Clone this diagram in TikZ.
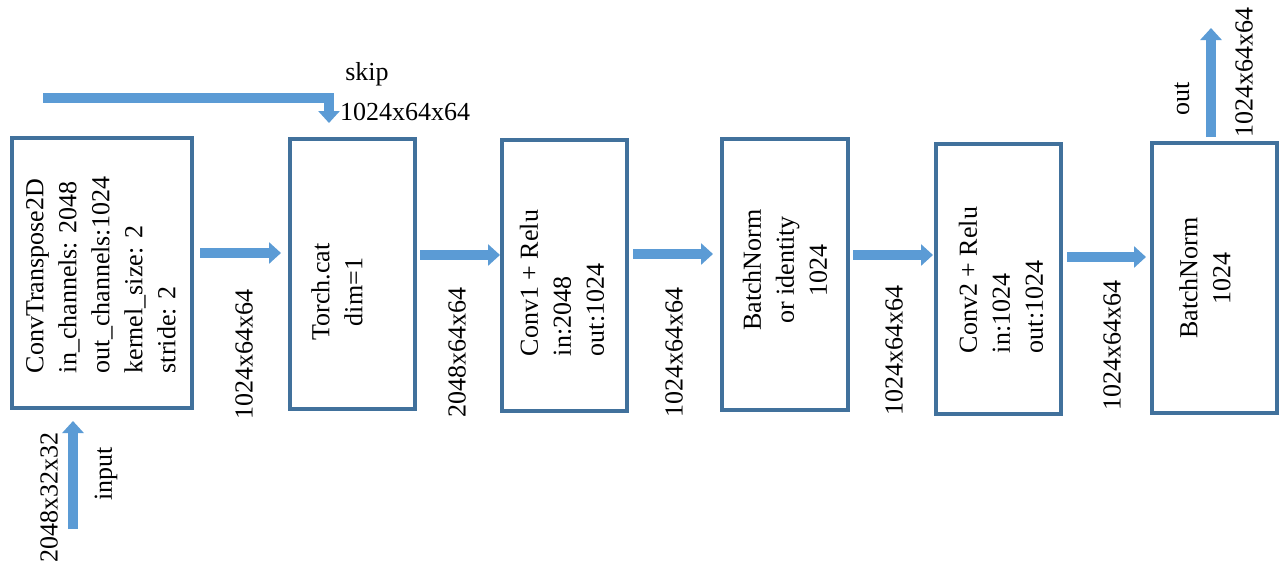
\documentclass[tikz,border=0pt]{standalone}
\usepackage{fontspec}
\setmainfont{Liberation Serif}
\usetikzlibrary{arrows.meta}
\definecolor{boxline}{RGB}{65,113,156}
\definecolor{flowblue}{RGB}{91,155,213}
\begin{document}
\begin{tikzpicture}[x=1pt,y=-1pt,
  stage/.style={draw=boxline, line width=3.4pt, inner sep=0pt, outer sep=0pt, fill=white},
  lbl/.style={font=\fontsize{26}{33}\selectfont, inner sep=0pt, text=black},
  vlbl/.style={lbl, rotate=90},
  btxt/.style={vlbl, align=center},
  btxtl/.style={vlbl, align=left},
  flow/.style={draw=flowblue, line width=10pt, line join=miter,
    -{Triangle[width=21pt,length=12pt]}}]
\useasboundingbox (0,0) rectangle (1283,563);

% processing stages
\node[stage, minimum width=180pt, minimum height=270pt] (convt) at (102,273) {};
\node[stage, minimum width=125pt, minimum height=270pt] (cat)   at (352.5,274) {};
\node[stage, minimum width=125pt, minimum height=271pt] (conv1) at (564.5,275.5) {};
\node[stage, minimum width=126pt, minimum height=271pt] (bn1)   at (785,274.5) {};
\node[stage, minimum width=125pt, minimum height=270pt] (conv2) at (998.5,279) {};
\node[stage, minimum width=125pt, minimum height=270pt] (bn2)   at (1214.5,278) {};

% stage captions
\node[btxtl] (convtT) at (101,275) {ConvTranspose2D\\in\_channels: 2048\\out\_channels:1024\\kernel\_size: 2\\stride: 2};
\node[btxt]  (catT)   at (337,292) {Torch.cat\\dim=1};
\node[btxtl] (conv1T) at (562,283) {Conv1 + Relu\\in:2048\\out:1024};
\node[btxt]  (bn1T)   at (785,270) {BatchNorm\\or identity\\1024};
\node[btxtl] (conv2T) at (1001,280) {Conv2 + Relu\\in:1024\\out:1024};
\node[btxt]  (bn2T)   at (1205,278) {BatchNorm\\1024};

% arrow end points
\coordinate (inS) at (73,529);   \coordinate (inE) at (73,421);
\coordinate (a1S) at (200,253);  \coordinate (a1E) at (281,253);
\coordinate (a2S) at (420,255);  \coordinate (a2E) at (500,255);
\coordinate (a3S) at (633,254);  \coordinate (a3E) at (713,254);
\coordinate (a4S) at (853,255);  \coordinate (a4E) at (933,255);
\coordinate (a5S) at (1067,257); \coordinate (a5E) at (1146,257);
\coordinate (outS) at (1211,137); \coordinate (outE) at (1211,28);
\coordinate (skS) at (43,97.5);  \coordinate (skE) at (329,123);

% data flow
\draw[flow] (inS) -- (inE);
\draw[flow] (a1S) -- (a1E);
\draw[flow] (a2S) -- (a2E);
\draw[flow] (a3S) -- (a3E);
\draw[flow] (a4S) -- (a4E);
\draw[flow] (a5S) -- (a5E);
\draw[flow] (outS) -- (outE);
\draw[flow] (skS) -| (skE);

% tensor shapes
\node[vlbl] (shIn)  at (49,497)   {2048x32x32};
\node[vlbl] (inL)   at (106,474)  {input};
\node[vlbl] (sh1)   at (244,354)  {1024x64x64};
\node[vlbl] (sh2)   at (457,352)  {2048x64x64};
\node[vlbl] (sh3)   at (674,352)  {1024x64x64};
\node[vlbl] (sh4)   at (894,350)  {1024x64x64};
\node[vlbl] (sh5)   at (1112,345) {1024x64x64};
\node[vlbl] (outL)  at (1182,99)  {out};
\node[vlbl] (shOut) at (1244,72)  {1024x64x64};
\node[lbl, anchor=base] (skipL) at (367,80)  {skip};
\node[lbl, anchor=base] (shSk)  at (405,120) {1024x64x64};
\end{tikzpicture}
\end{document}
